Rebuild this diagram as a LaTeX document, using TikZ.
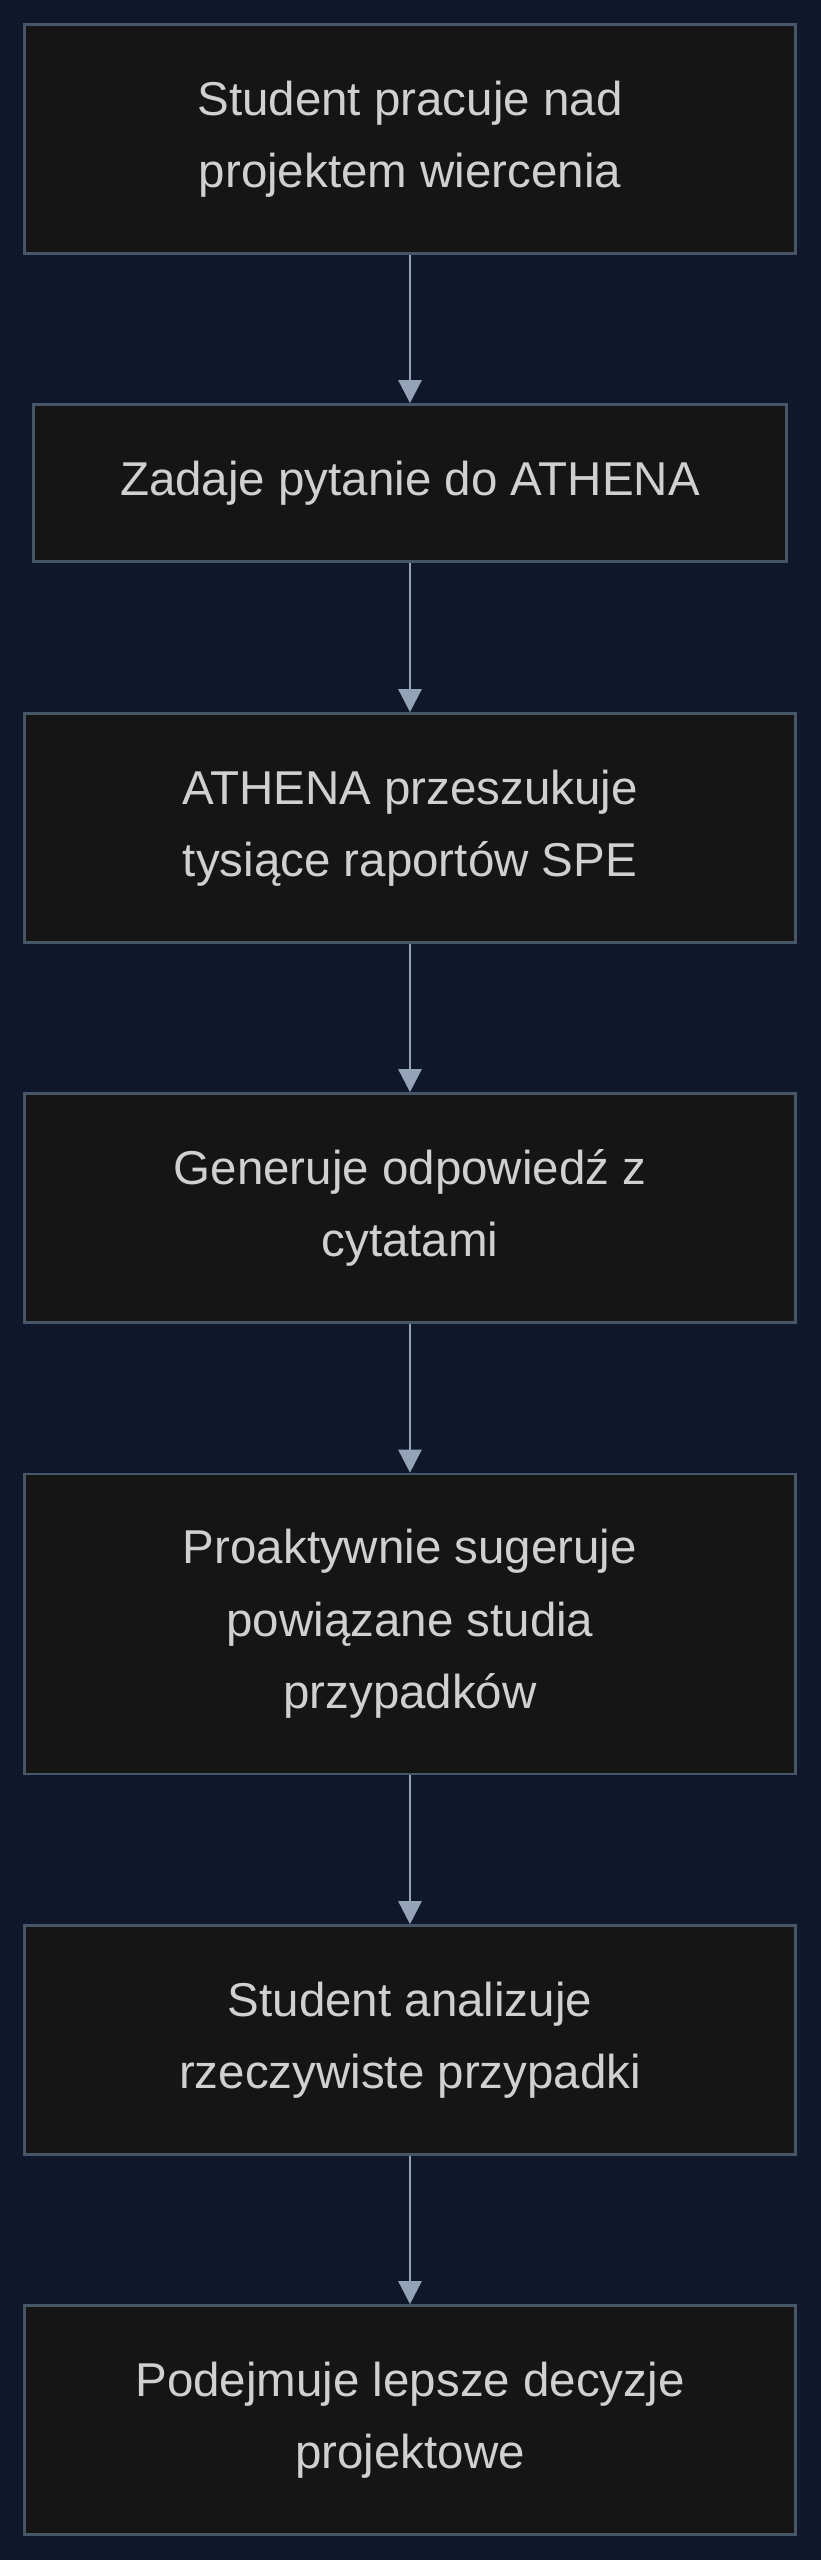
\documentclass[tikz,border=0pt]{standalone}
\usepackage{fontspec}
\setmainfont{Liberation Sans}
\usetikzlibrary{arrows.meta}
\definecolor{bgnavy}{HTML}{0F172A}
\definecolor{boxfill}{HTML}{151515}
\definecolor{boxline}{HTML}{475569}
\definecolor{arrowgrey}{HTML}{94A3B8}
\definecolor{textgrey}{HTML}{D0D0D0}

\begin{document}
\begin{tikzpicture}[x=1pt, y=1pt,
  stepbox/.style={draw=boxline, fill=boxfill, line width=2.7pt, inner sep=0pt,
    minimum width=771pt, text=textgrey, align=center,
    font=\fontsize{47.5pt}{72.5pt}\selectfont},
  flow/.style={-{Triangle[width=23pt,length=23pt]}, color=arrowgrey, line width=2.7pt}]
\useasboundingbox (0, 0) rectangle (820, -2560);
\fill[bgnavy] (-10, 10) rectangle (830, -2570);

\node[stepbox, minimum height=229pt] (work)    at (410, -139)  {Student pracuje nad\\projektem wiercenia};
\node[stepbox, minimum height=157pt, minimum width=753pt] (ask) at (410, -483) {Zadaje pytanie do ATHENA};
\node[stepbox, minimum height=229pt] (search)  at (410, -828)  {ATHENA przeszukuje\\tysiące raportów SPE};
\node[stepbox, minimum height=229pt] (answer)  at (410, -1208) {Generuje odpowiedź z\\cytatami};
\node[stepbox, minimum height=300pt] (suggest) at (410, -1624) {Proaktywnie sugeruje\\powiązane studia\\przypadków};
\node[stepbox, minimum height=229pt] (study)   at (410, -2040) {Student analizuje\\rzeczywiste przypadki};
\node[stepbox, minimum height=229pt] (decide)  at (410, -2420) {Podejmuje lepsze decyzje\\projektowe};

\path[flow]
(work)    edge (ask)
(ask)     edge (search)
(search)  edge (answer)
(answer)  edge (suggest)
(suggest) edge (study)
(study)   edge (decide)
;
\end{tikzpicture}
\end{document}
